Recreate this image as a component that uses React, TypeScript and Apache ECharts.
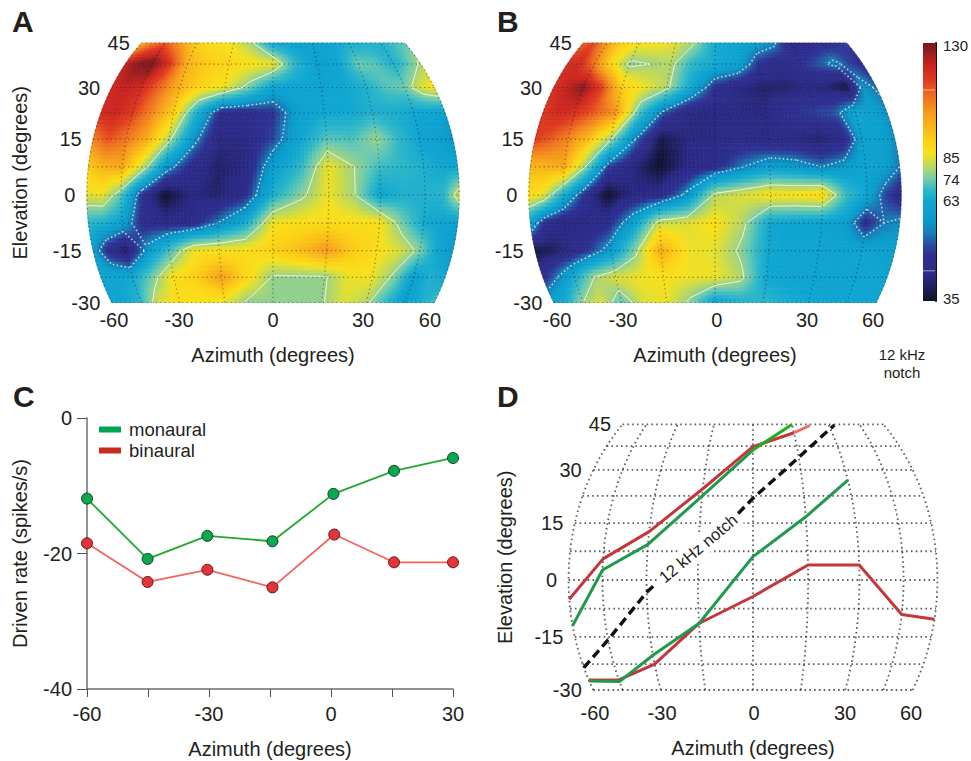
import React, { useEffect, useRef } from "react";
import * as echarts from "echarts";

const FONT = "Liberation Sans";
const INK = "#231f20";

// ---- sampled azimuth / elevation nodes (degrees)
const AZ_NODES = [-60, -52.5, -45, -37.5, -30, -22.5, -15, -7.5, 0, 7.5, 15, 22.5, 30, 37.5, 45, 52.5, 60];
const EL_NODES = [45, 37.5, 30, 22.5, 15, 7.5, 0, -7.5, -15, -22.5, -30];

// ---- driven rate (spikes/s) per elevation row, per azimuth column
const HEAT_A = [
  [96, 106, 112, 102, 92, 88, 86, 78, 62, 60, 60, 62, 64, 66, 66, 70, 72],
  [122, 128, 130, 118, 98, 93, 90, 88, 86, 68, 60, 62, 74, 72, 66, 72, 80],
  [120, 122, 120, 110, 98, 90, 86, 75, 62, 62, 62, 63, 66, 72, 74, 84, 88],
  [120, 121, 116, 106, 92, 66, 46, 46, 48, 60, 63, 63, 66, 65, 63, 62, 60],
  [106, 113, 108, 100, 80, 57, 42, 42, 50, 62, 72, 71, 78, 68, 62, 60, 56],
  [92, 98, 100, 82, 58, 46, 40, 42, 60, 68, 86, 78, 70, 68, 66, 63, 62],
  [84, 86, 73, 48, 35, 42, 40, 46, 66, 76, 86, 78, 62, 66, 66, 68, 84],
  [68, 66, 61, 46, 44, 44, 54, 64, 86, 88, 88, 88, 88, 74, 64, 62, 60],
  [60, 46, 38, 56, 70, 86, 87, 88, 92, 96, 103, 93, 88, 84, 76, 62, 57],
  [62, 62, 63, 74, 88, 92, 102, 90, 77, 77, 77, 86, 86, 76, 60, 66, 63],
  [62, 62, 68, 84, 88, 86, 85, 76, 77, 77, 77, 84, 80, 68, 59, 65, 70],
];
const HEAT_B = [
  [110, 114, 102, 92, 88, 88, 85, 78, 64, 62, 60, 56, 42, 42, 46, 48, 50],
  [118, 120, 108, 90, 76, 78, 80, 68, 64, 62, 48, 44, 48, 52, 56, 50, 46],
  [118, 122, 128, 116, 92, 86, 80, 64, 48, 42, 40, 40, 42, 40, 36, 57, 53],
  [116, 120, 118, 112, 104, 72, 52, 42, 42, 42, 42, 48, 50, 52, 62, 60, 56],
  [116, 112, 106, 96, 78, 54, 37, 42, 42, 44, 42, 42, 40, 42, 60, 60, 56],
  [96, 98, 100, 78, 50, 42, 35, 42, 46, 54, 60, 58, 54, 58, 62, 60, 54],
  [90, 85, 66, 48, 35, 42, 44, 56, 80, 84, 88, 88, 90, 70, 62, 50, 44],
  [62, 46, 42, 42, 46, 60, 82, 84, 88, 80, 63, 62, 61, 60, 46, 54, 56],
  [36, 38, 42, 48, 58, 76, 100, 86, 85, 76, 63, 62, 62, 61, 62, 60, 60],
  [46, 54, 64, 78, 84, 86, 87, 86, 86, 80, 63, 62, 62, 62, 62, 63, 60],
  [62, 65, 78, 84, 72, 84, 86, 76, 61, 66, 68, 65, 63, 62, 63, 62, 63],
];
const SOLID_CONTOUR = 78;
const DOTTED_CONTOUR = 54;

// ---- colour bar
const BAR_TICK_VALUES = [35, 63, 74, 85, 130];
const BAR_TICK_POS = [0, 0.388, 0.469, 0.558, 1];
const BAR_MARKS = [112, 43];
const BAR_STOP_POS = [0, 0.043, 0.1, 0.178, 0.217, 0.256, 0.314, 0.388, 0.43, 0.469, 0.508, 0.547, 0.575, 0.62, 0.721, 0.798, 0.857, 0.915, 0.973, 1];
const BAR_STOP_COL = ["#12122a", "#1c1c55", "#2b2a85", "#2e2f92", "#2a4a9e", "#1a78b4", "#0a9ccc", "#10a6d2", "#30b8c8", "#6ecbb0", "#a8d478", "#d8de3c", "#f8e01c", "#fcd116", "#f7a01c", "#ee6c20", "#df3a20", "#c8241f", "#8e1c1e", "#7a1518"];

// ---- panel C
const C_AZ_TICKS = [-60, -30, 0, 30];
const C_MONAURAL = [[-60, -11.9], [-45.1, -20.8], [-30.4, -17.4], [-14.4, -18.2], [0.6, -11.2], [15.5, -7.8], [30, -5.9]];
const C_BINAURAL = [[-60, -18.5], [-45.1, -24.2], [-30.4, -22.4], [-14.4, -25], [0.8, -17.2], [15.5, -21.3], [30, -21.3]];

// ---- panel D, [azimuth, elevation]
const D_RED_UP = [[-60, -5], [-45, 5.5], [-30, 12.7], [-15, 24.5], [0, 37.3], [15, 42]];
const D_RED_UP_TAIL = [[15, 42], [22, 44.6]];
const D_GREEN_UP = [[-60, -12], [-45, 2.6], [-30, 9.3], [-15, 22.4], [0, 36.2]];
const D_GREEN_UP_TAIL = [[0, 36.2], [15, 45]];
const D_GREEN_LOW = [[-60, -27.3], [-45, -27.5], [-30, -20], [-15, -11.4], [0, 6.1], [15, 16.7], [30, 27]];
const D_RED_LOW = [[-60, -27], [-45, -27], [-30, -22.5], [-15, -11.4], [0, -4.3], [15, 3.9], [30, 3.9], [45, -9], [60, -10.3]];
const D_NOTCH_A = [[-60, -23.5], [-45, -15.8], [-30, -3.2], [-27.5, -1.3]];
const D_NOTCH_B = [[-4.2, 17.6], [0, 21.8], [9.3, 29.5], [32.6, 44.8]];
const D_NOTCH_LABEL = [-15.1, 8.3];

// ---- tick labels
const AZ_TICKS = [-60, -30, 0, 30, 60];
const EL_TICKS = [45, 30, 15, 0, -15, -30];
const GRAT_AZ = [-60, -45, -30, -15, 0, 15, 30, 45, 60];
const GRAT_EL = [45, 37.5, 30, 22.5, 15, 7.5, 0, -7.5, -15, -22.5, -30];

// horizontal place of the azimuth labels, in the projected unit of each map
const LABEL_AT_A = [-0.74, -0.437, 0, 0.419, 0.73];
const LABEL_AT_B = [-0.735, -0.428, 0.009, 0.428, 0.735];
const LABEL_AT_D = [-0.742, -0.427, 0.005, 0.432, 0.742];

const RAD = Math.PI / 180;
const project = (az: number, el: number) => [Math.cos(el * RAD) * Math.sin(az * RAD), Math.sin(el * RAD)];

const hex = (c: string) => [parseInt(c.slice(1, 3), 16), parseInt(c.slice(3, 5), 16), parseInt(c.slice(5, 7), 16)];
const STOP_RGB = BAR_STOP_COL.map(hex);

function valueToPos(v: number) {
  const xs = BAR_TICK_VALUES, ys = BAR_TICK_POS;
  if (v <= xs[0]) return ys[0];
  for (let i = 1; i < xs.length; i++) {
    if (v <= xs[i]) return ys[i - 1] + ((v - xs[i - 1]) / (xs[i] - xs[i - 1])) * (ys[i] - ys[i - 1]);
  }
  return 1;
}
function colorOf(v: number) {
  const t = valueToPos(v);
  let i = 1;
  while (i < BAR_STOP_POS.length - 1 && t > BAR_STOP_POS[i]) i++;
  const f = Math.min(1, Math.max(0, (t - BAR_STOP_POS[i - 1]) / (BAR_STOP_POS[i] - BAR_STOP_POS[i - 1])));
  const a = STOP_RGB[i - 1], b = STOP_RGB[i];
  return `rgb(${Math.round(a[0] + f * (b[0] - a[0]))},${Math.round(a[1] + f * (b[1] - a[1]))},${Math.round(a[2] + f * (b[2] - a[2]))})`;
}

function cellData(m: number[][]) {
  const out: number[][] = [];
  for (let r = 0; r < EL_NODES.length - 1; r++) {
    for (let c = 0; c < AZ_NODES.length - 1; c++) {
      const p = project(AZ_NODES[c], EL_NODES[r]);
      out.push([p[0], p[1], m[r][c], c, r]);
    }
  }
  return out;
}

const SUB = 7;
function heatSeries(m: number[][], idx: number) {
  return {
    type: "custom", xAxisIndex: idx, yAxisIndex: idx, silent: true, clip: false, progressive: 0,
    encode: { x: 0, y: 1 }, data: cellData(m), z: 1,
    renderItem(_: any, api: any) {
      const c = api.value(3), r = api.value(4);
      const a0 = AZ_NODES[c], a1 = AZ_NODES[c + 1], e0 = EL_NODES[r], e1 = EL_NODES[r + 1];
      const pt = (u: number, v: number) => api.coord(project(a0 + u * (a1 - a0), e0 + v * (e1 - e0)));
      const children: any[] = [];
      for (let i = 0; i < SUB; i++) {
        for (let j = 0; j < SUB; j++) {
          const u0 = i / SUB, u1 = (i + 1) / SUB, v0 = j / SUB, v1 = (j + 1) / SUB;
          const u = (u0 + u1) / 2, v = (v0 + v1) / 2;
          const val = m[r][c] * (1 - u) * (1 - v) + m[r][c + 1] * u * (1 - v) + m[r + 1][c] * (1 - u) * v + m[r + 1][c + 1] * u * v;
          const col = colorOf(val);
          children.push({
            type: "polygon", silent: true,
            shape: { points: [pt(u0, v0), pt(u1, v0), pt(u1, v1), pt(u0, v1)] },
            style: { fill: col, stroke: col, lineWidth: 0.7 },
          });
        }
      }
      return { type: "group", children };
    },
  };
}

function crossings(a: number, b: number, L: number) {
  return (a < L) !== (b < L) ? (L - a) / (b - a) : -1;
}
function contourSeries(m: number[][], idx: number, level: number, dash: number[] | null, width: number) {
  return {
    type: "custom", xAxisIndex: idx, yAxisIndex: idx, silent: true, clip: false, progressive: 0,
    encode: { x: 0, y: 1 }, data: cellData(m), z: 2,
    renderItem(_: any, api: any) {
      const c = api.value(3), r = api.value(4);
      const a0 = AZ_NODES[c], a1 = AZ_NODES[c + 1], e0 = EL_NODES[r], e1 = EL_NODES[r + 1];
      const pt = (u: number, v: number) => api.coord(project(a0 + u * (a1 - a0), e0 + v * (e1 - e0)));
      const v00 = m[r][c], v10 = m[r][c + 1], v01 = m[r + 1][c], v11 = m[r + 1][c + 1];
      const hits: number[][] = [];
      let t = crossings(v00, v10, level); if (t >= 0) hits.push(pt(t, 0));
      t = crossings(v10, v11, level); if (t >= 0) hits.push(pt(1, t));
      t = crossings(v01, v11, level); if (t >= 0) hits.push(pt(t, 1));
      t = crossings(v00, v01, level); if (t >= 0) hits.push(pt(0, t));
      const children: any[] = [];
      for (let i = 0; i + 1 < hits.length; i += 2) {
        children.push({
          type: "line", silent: true,
          shape: { x1: hits[i][0], y1: hits[i][1], x2: hits[i + 1][0], y2: hits[i + 1][1] },
          style: { stroke: "rgba(255,255,255,0.75)", lineWidth: width, lineDash: dash || undefined },
        });
      }
      return { type: "group", children };
    },
  };
}

function graticuleSeries(idx: number, color: string, width: number, dash: number[]) {
  const data: number[][] = [];
  GRAT_EL.forEach((e) => data.push([0, Math.sin(e * RAD), 0, e]));
  GRAT_AZ.forEach((a) => data.push([Math.sin(a * RAD), 0, 1, a]));
  return {
    type: "custom", xAxisIndex: idx, yAxisIndex: idx, silent: true, clip: false,
    encode: { x: 0, y: 1 }, data, z: 3,
    renderItem(_: any, api: any) {
      const isMeridian = api.value(2) === 1, ang = api.value(3);
      const pts: number[][] = [];
      const N = 24;
      for (let i = 0; i <= N; i++) {
        const s = i / N;
        pts.push(api.coord(isMeridian ? project(ang, -30 + 75 * s) : project(-60 + 120 * s, ang)));
      }
      return { type: "polyline", silent: true, shape: { points: pts }, style: { fill: "none", stroke: color, lineWidth: width, lineDash: dash } };
    },
  };
}

// an opaque, fully white-free mark: the label's ink must not inherit any transparency
const HIDDEN_MARK = { color: "#ffffff", opacity: 0 };

function elevationLabels(idx: number) {
  return {
    type: "scatter", xAxisIndex: idx, yAxisIndex: idx, silent: true, symbol: "circle", symbolSize: 1,
    itemStyle: HIDDEN_MARK, z: 5,
    data: EL_TICKS.map((e) => {
      const p = project(-60, e);
      return { value: [p[0], p[1]], name: String(e) };
    }),
    label: { show: true, opacity: 1, position: "left", distance: 11, formatter: "{b}", fontFamily: FONT, fontSize: 20, color: INK, textBorderWidth: 0 },
  };
}

function planeAxes(idx: number, nameX: string, nameY: string, gapX: number, gapY: number, margin: number, labelAt: number[]) {
  return {
    x: {
      type: "value", gridIndex: idx, min: -1, max: 1, name: nameX, nameLocation: "middle", nameGap: gapX,
      nameTextStyle: { fontFamily: FONT, fontSize: 20, color: INK },
      axisLine: { show: false, onZero: false }, axisTick: { show: false }, splitLine: { show: false },
      axisLabel: {
        show: true, customValues: labelAt, margin, fontFamily: FONT, fontSize: 20, color: INK,
        formatter: (v: number) => {
          const i = labelAt.findIndex((p) => Math.abs(p - v) < 0.002);
          return i >= 0 ? String(AZ_TICKS[i]) : "";
        },
      },
    },
    y: {
      type: "value", gridIndex: idx, min: -0.5, max: Math.sin(45 * RAD), name: nameY, nameLocation: "middle", nameGap: gapY,
      nameTextStyle: { fontFamily: FONT, fontSize: 20, color: INK },
      axisLine: { show: false, onZero: false }, axisTick: { show: false }, splitLine: { show: false }, axisLabel: { show: false },
    },
  };
}

const toPlane = (pts: number[][]) => pts.map((p) => project(p[0], p[1]));

function dLine(name: string, pts: number[][], color: string, width: number, dash?: number[]) {
  return {
    type: "line", name, xAxisIndex: 2, yAxisIndex: 2, data: toPlane(pts), showSymbol: false, symbol: "none", silent: true, clip: false, z: 4,
    lineStyle: { color, width, type: dash || "solid", cap: "butt", join: "round" },
  };
}

function buildOption() {
  const A = planeAxes(0, "Azimuth (degrees)", "Elevation (degrees)", 42, 28, 7, LABEL_AT_A);
  const B = planeAxes(1, "Azimuth (degrees)", "", 42, 28, 7, LABEL_AT_B);
  const D = planeAxes(2, "Azimuth (degrees)", "Elevation (degrees)", 48, 25, 13, LABEL_AT_D);
  const barStops = BAR_STOP_POS.map((p, i) => ({ offset: 1 - p, color: BAR_STOP_COL[i] })).reverse();
  const textCommon = { fontFamily: FONT, fill: INK };
  const letter = (t: string, x: number, y: number) => ({
    type: "text", x, y, style: { ...textCommon, text: t, fontSize: 30, fontWeight: "bold", textVerticalAlign: "top" },
  });
  return {
    animation: false,
    backgroundColor: "#ffffff",
    textStyle: { fontFamily: FONT },
    grid: [
      { left: 58, top: 43, width: 430, height: 259.5 },
      { left: 500, top: 43, width: 430, height: 259.5 },
      { left: 540, top: 424.4, width: 426, height: 265.6 },
      { left: 87, top: 418, width: 366, height: 271 },
      { left: 923, top: 43, width: 14, height: 258 },
    ],
    xAxis: [
      A.x, B.x, D.x,
      {
        type: "value", gridIndex: 3, min: -60, max: 30, interval: 15, name: "Azimuth (degrees)", nameLocation: "middle", nameGap: 50,
        nameTextStyle: { fontFamily: FONT, fontSize: 20, color: INK },
        axisLine: { onZero: false, lineStyle: { color: "#6d6e71", width: 1.5 } },
        axisTick: { length: 8, lineStyle: { color: "#555", width: 1 } },
        splitLine: { show: false },
        axisLabel: { customValues: C_AZ_TICKS, margin: 15, fontFamily: FONT, fontSize: 20, color: INK },
      },
      { type: "value", gridIndex: 4, min: 0, max: 1, show: false },
    ],
    yAxis: [
      A.y, B.y, D.y,
      {
        type: "value", gridIndex: 3, min: -40, max: 0, interval: 20, name: "Driven rate (spikes/s)", nameLocation: "middle", nameGap: 57,
        nameTextStyle: { fontFamily: FONT, fontSize: 20, color: INK },
        axisLine: { onZero: false, lineStyle: { color: "#6d6e71", width: 1.5 } },
        axisTick: { length: 10, lineStyle: { color: "#555", width: 1 } },
        splitLine: { show: false },
        axisLabel: { margin: 15, fontFamily: FONT, fontSize: 20, color: INK },
      },
      {
        type: "value", gridIndex: 4, min: -0.008, max: 1.008, position: "right",
        axisLine: { show: true, onZero: false, lineStyle: { color: "#111", width: 2 } },
        axisTick: { show: true, inside: true, length: 7, customValues: BAR_TICK_POS.slice(1), lineStyle: { color: "#111", width: 2 } },
        splitLine: { show: false },
        axisLabel: {
          customValues: BAR_TICK_POS, margin: 7, fontFamily: FONT, fontSize: 15, color: INK,
          formatter: (v: number) => {
            const i = BAR_TICK_POS.findIndex((p) => Math.abs(p - v) < 0.001);
            return i >= 0 ? String(BAR_TICK_VALUES[i]) : "";
          },
        },
      },
    ],
    legend: {
      left: 94, top: 415, orient: "vertical", itemWidth: 22, itemHeight: 6, itemGap: 2, selectedMode: false,
      textStyle: { fontFamily: FONT, fontSize: 18.5, color: INK, padding: [0, 0, 0, 3] },
      data: [
        { name: "monaural", icon: "rect", itemStyle: { color: "#00a651", borderWidth: 0 } },
        { name: "binaural", icon: "rect", itemStyle: { color: "#cb2a1c", borderWidth: 0 } },
      ],
    },
    graphic: [
      letter("A", 12, 6), letter("B", 497, 6), letter("C", 13, 381), letter("D", 497, 381),
      { type: "text", x: 902, y: 345, style: { ...textCommon, text: "12 kHz\nnotch", fontSize: 15, lineHeight: 18, textAlign: "center" } },
    ],
    series: [
      heatSeries(HEAT_A, 0),
      contourSeries(HEAT_A, 0, SOLID_CONTOUR, null, 1),
      contourSeries(HEAT_A, 0, DOTTED_CONTOUR, [1.5, 2.5], 1.5),
      graticuleSeries(0, "rgba(30,30,30,0.5)", 1.2, [1.2, 3.2]),
      elevationLabels(0),
      heatSeries(HEAT_B, 1),
      contourSeries(HEAT_B, 1, SOLID_CONTOUR, null, 1),
      contourSeries(HEAT_B, 1, DOTTED_CONTOUR, [1.5, 2.5], 1.5),
      graticuleSeries(1, "rgba(30,30,30,0.5)", 1.2, [1.2, 3.2]),
      elevationLabels(1),
      graticuleSeries(2, "rgba(40,40,40,0.75)", 1.8, [1.6, 3.2]),
      elevationLabels(2),
      dLine("binaural upper", D_RED_UP, "#c5363a", 3),
      dLine("binaural upper tail", D_RED_UP_TAIL, "#f2695e", 3),
      dLine("monaural upper", D_GREEN_UP, "#1f9a4c", 3),
      dLine("monaural upper tail", D_GREEN_UP_TAIL, "#1fae1f", 3),
      dLine("binaural lower", D_RED_LOW, "#c5363a", 3),
      dLine("monaural lower", D_GREEN_LOW, "#1f9a4c", 3),
      dLine("notch a", D_NOTCH_A, "#111", 3.4, [9, 5]),
      dLine("notch b", D_NOTCH_B, "#111", 3.4, [9, 5]),
      {
        type: "scatter", xAxisIndex: 2, yAxisIndex: 2, silent: true, symbol: "circle", symbolSize: 1, z: 6, itemStyle: HIDDEN_MARK,
        data: [{ value: project(D_NOTCH_LABEL[0], D_NOTCH_LABEL[1]), name: "12 kHz notch" }],
        label: { show: true, opacity: 1, position: "inside", formatter: "{b}", rotate: 40, fontFamily: FONT, fontSize: 16.5, color: INK, textBorderWidth: 0, backgroundColor: "#fff", padding: [2, 3] },
      },
      {
        type: "line", name: "monaural", xAxisIndex: 3, yAxisIndex: 3, data: C_MONAURAL, clip: false, z: 4, symbol: "circle", symbolSize: 11,
        lineStyle: { color: "#22a82a", width: 1.8 }, itemStyle: { color: "#0aa84f", borderColor: "#1c3b2a", borderWidth: 1 },
      },
      {
        type: "line", name: "binaural", xAxisIndex: 3, yAxisIndex: 3, data: C_BINAURAL, clip: false, z: 4, symbol: "circle", symbolSize: 11,
        lineStyle: { color: "#f0655c", width: 1.8 }, itemStyle: { color: "#e5333a", borderColor: "#5a1c1c", borderWidth: 1 },
      },
      {
        type: "custom", xAxisIndex: 4, yAxisIndex: 4, silent: true, clip: false, encode: { x: 0, y: 1 }, z: 1,
        data: [[0, 1.008]],
        renderItem(_: any, api: any) {
          const a = api.coord([0, 1.008]), b = api.coord([1, -0.008]);
          const children: any[] = [{
            type: "rect", shape: { x: a[0], y: a[1], width: b[0] - a[0], height: b[1] - a[1] },
            style: { fill: new echarts.graphic.LinearGradient(0, 0, 0, 1, barStops) },
          }];
          BAR_MARKS.forEach((v) => {
            const p = api.coord([0, valueToPos(v)]);
            children.push({ type: "line", shape: { x1: a[0], y1: p[1], x2: b[0] - 1, y2: p[1] }, style: { stroke: "rgba(255,255,255,0.55)", lineWidth: 1 } });
          });
          return { type: "group", children };
        },
      },
    ],
  };
}

export default function App() {
  const ref = useRef<HTMLDivElement>(null);
  useEffect(() => {
    if (!ref.current) return;
    const chart = echarts.init(ref.current, undefined, { renderer: "svg" });
    chart.setOption(buildOption() as any);
    return () => chart.dispose();
  }, []);
  return <div ref={ref} style={{ position: "absolute", left: 0, top: 0, width: 971, height: 761 }} />;
}
